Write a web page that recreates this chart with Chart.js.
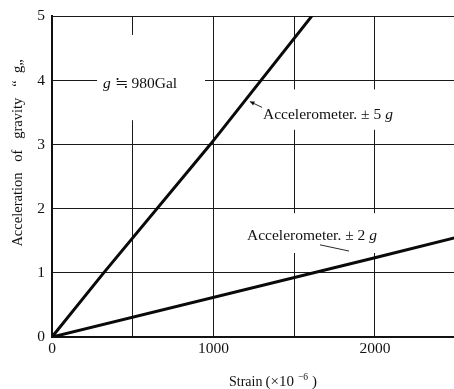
<!DOCTYPE html>
<html>
<head>
<meta charset="utf-8">
<script src="https://cdn.jsdelivr.net/npm/chart.js@4"></script>
<style>
  html, body { margin: 0; padding: 0; background: #fff; }
  #wrap { width: 454px; height: 389px; }
</style>
</head>
<body>
<div id="wrap"><canvas id="c" width="454" height="389"></canvas></div>
<script>
// ---- data ----
const xGridValues = [0, 500, 1000, 1500, 2000];
const xTickLabels = ['0', '', '1000', '', '2000'];
const yGridValues = [0, 1, 2, 3, 4, 5];
const yTickLabels = ['0', '1', '2', '3', '4', '5'];

const acc5gStrain = [0, 320, 980, 1608];
const acc5gValue  = [0, 1, 3, 5];
const acc2gStrain = [0, 2000, 2500];
const acc2gValue  = [0, 1.235, 1.55];

const xTitleParts = ['Strain', '(×10', '−6', ')'];
const yTitle = 'Acceleration   of   gravity   “  g„';
const noteTexts = [
  [['g', true], [' ≒ 980Gal', false]],
  [['Accelerometer. ± 5 ', false], ['g', true]],
  [['Accelerometer. ± 2 ', false], ['g', true]]
];

const FONT = '"Liberation Serif", "Times New Roman", serif';

const pts = (xs, ys) => xs.map((v, i) => ({ x: v, y: ys[i] }));

const notesPlugin = {
  id: 'notes',
  beforeDatasetsDraw(chart) {
    const { ctx, scales: { x, y } } = chart;
    // white gaps where the printed grid is interrupted by the labels
    const boxes = [
      [279, 948, 4.71, 3.38],
      [1276, 2480, 3.86, 3.23],
      [1183, 2062, 1.93, 1.31]
    ];
    ctx.save();
    ctx.fillStyle = '#fff';
    for (const b of boxes) {
      const x0 = x.getPixelForValue(b[0]), x1 = x.getPixelForValue(b[1]);
      const y0 = y.getPixelForValue(b[2]), y1 = y.getPixelForValue(b[3]);
      ctx.fillRect(Math.min(x0, x1), Math.min(y0, y1), Math.abs(x1 - x0), Math.abs(y1 - y0));
    }
    ctx.restore();
  },
  afterDatasetsDraw(chart) {
    const { ctx, scales: { x, y } } = chart;
    ctx.save();
    ctx.fillStyle = '#111';
    ctx.strokeStyle = '#111';
    ctx.textBaseline = 'middle';
    ctx.textAlign = 'left';
    const anchors = [[316, 3.95], [1307, 3.46], [1208, 1.57]];
    noteTexts.forEach((segs, i) => {
      let cx = x.getPixelForValue(anchors[i][0]);
      const cy = y.getPixelForValue(anchors[i][1]);
      for (const [t, it] of segs) {
        ctx.font = (it ? 'italic ' : '') + '15.5px ' + FONT;
        ctx.fillText(t, cx, cy);
        cx += ctx.measureText(t).width;
      }
    });
    // leader lines
    const leaders = [
      [1301, 3.58, 1226, 3.67, true],
      [1660, 1.437, 1840, 1.34, false]
    ];
    ctx.lineWidth = 0.9;
    for (const [a, b, c, d, head] of leaders) {
      const x0 = x.getPixelForValue(a), y0 = y.getPixelForValue(b);
      const x1 = x.getPixelForValue(c), y1 = y.getPixelForValue(d);
      ctx.beginPath(); ctx.moveTo(x0, y0); ctx.lineTo(x1, y1); ctx.stroke();
      if (head) {
        const ang = Math.atan2(y1 - y0, x1 - x0);
        const L = 5;
        ctx.beginPath();
        ctx.moveTo(x1, y1);
        ctx.lineTo(x1 - L * Math.cos(ang - 0.45), y1 - L * Math.sin(ang - 0.45));
        ctx.lineTo(x1 - L * Math.cos(ang + 0.45), y1 - L * Math.sin(ang + 0.45));
        ctx.closePath(); ctx.fill();
      }
    }
    // x axis title (spaced like the print)
    ctx.textAlign = 'left';
    let tx = 229;
    ctx.font = '14px ' + FONT;
    ctx.fillText(xTitleParts[0], tx, 382);
    tx += ctx.measureText(xTitleParts[0]).width + 3;
    ctx.font = '15px ' + FONT;
    ctx.fillText(xTitleParts[1], tx, 382);
    tx += ctx.measureText(xTitleParts[1]).width + 4;
    ctx.font = '9.5px ' + FONT;
    ctx.fillText(xTitleParts[2], tx, 377);
    tx += ctx.measureText(xTitleParts[2]).width + 4;
    ctx.font = '15px ' + FONT;
    ctx.fillText(xTitleParts[3], tx, 382);
    // y axis title
    ctx.textAlign = 'center';
    ctx.translate(18, 153);
    ctx.rotate(-Math.PI / 2);
    ctx.font = '14.5px ' + FONT;
    ctx.fillText(yTitle, 0, 0);
    ctx.restore();
  }
};

new Chart(document.getElementById('c'), {
  type: 'scatter',
  data: {
    datasets: [
      { data: pts(acc5gStrain, acc5gValue) },
      { data: pts(acc2gStrain, acc2gValue) }
    ]
  },
  options: {
    responsive: false,
    animation: false,
    devicePixelRatio: 1,
    showLine: true,
    layout: { padding: { top: 13, right: 0, bottom: 0, left: 0 } },
    elements: {
      point: { radius: 0, hoverRadius: 0 },
      line: { borderColor: '#0a0a0a', borderWidth: 3, tension: 0, borderCapStyle: 'round' }
    },
    plugins: { legend: { display: false }, tooltip: { enabled: false } },
    scales: {
      x: {
        type: 'linear', min: 0, max: 2490,
        afterBuildTicks: s => { s.ticks = xGridValues.map(v => ({ value: v })); },
        afterFit: s => { s.height = 52; },
        ticks: {
          autoSkip: false, maxRotation: 0, padding: 3, color: '#111',
          font: { family: FONT, size: 15.5 },
          callback: v => xTickLabels[xGridValues.indexOf(v)] ?? ''
        },
        grid: { color: '#1a1a1a', lineWidth: 1, drawTicks: false },
        border: { color: '#111', width: 1.6 }
      },
      y: {
        type: 'linear', min: 0, max: 5,
        afterBuildTicks: s => { s.ticks = yGridValues.map(v => ({ value: v })); },
        afterFit: s => { s.width = 52; },
        ticks: {
          autoSkip: false, padding: 7, color: '#111',
          font: { family: FONT, size: 15.5 },
          callback: v => yTickLabels[yGridValues.indexOf(v)] ?? ''
        },
        grid: { color: '#1a1a1a', lineWidth: 1, drawTicks: false },
        border: { color: '#111', width: 2 }
      }
    }
  },
  plugins: [notesPlugin]
});
</script>
</body>
</html>
